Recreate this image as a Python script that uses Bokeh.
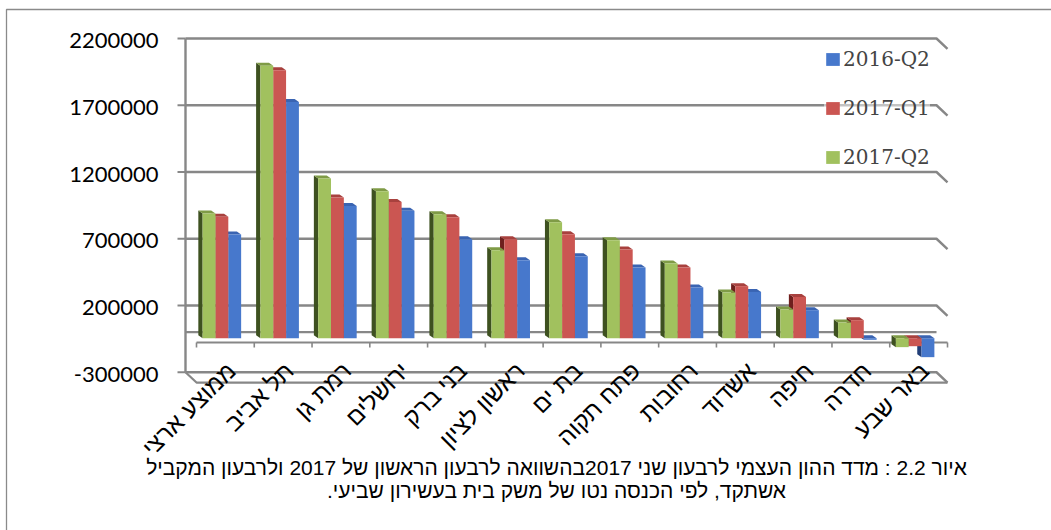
import math

from bokeh.core.properties import value
from bokeh.embed import file_html
from bokeh.models import Legend, LegendItem, Range1d
from bokeh.plotting import figure
from bokeh.resources import INLINE

# ---------------------------------------------------------------- data
categories = [
    "ממוצע ארצי", "תל אביב", "רמת גן", "ירושלים", "בני ברק", "ראשון לציון",
    "בת ים", "פתח תקוה", "רחובות", "אשדוד", "חיפה", "חדרה", "באר שבע",
]
q2_2016 = [777000, 1770000, 991000, 955000, 742000, 584000, 614000,
           530000, 380000, 347000, 210000, -12000, -142000]
q1_2017 = [909000, 2008000, 1054000, 1021000, 906000, 742000, 779000,
           664000, 530000, 390000, 309000, 135000, -60000]
q2_2017 = [934000, 2040000, 1196000, 1100000, 929000, 659000, 869000,
           734000, 560000, 342000, 215000, 117000, -67000]
series_names = ["2016-Q2", "2017-Q1", "2017-Q2"]
y_ticks = [2200000, 1700000, 1200000, 700000, 200000, -300000]
y_tick_labels = ["2200000", "1700000", "1200000", "700000", "200000", "-300000"]
caption_lines = [
    "איור 2.2 : מדד ההון העצמי לרבעון שני 2017בהשוואה לרבעון הראשון של 2017 ולרבעון המקביל",
    "אשתקד, לפי הכנסה נטו של משק בית בעשירון שביעי.\u200f",
]

# ------------------------------------------- geometry of the 3-D box
W, H = 1051, 530
CAT_PX = 57.77              # width of one category slot
VAL_PX = 66.75 / 500000     # pixels per unit of value
WALL_X0, WALL_Y0 = 185.0, 331.7   # left edge / zero level on the back wall
MID_SHIFT = (7.5, 6.0)      # bars stand half way into the floor
FRONT_SHIFT = (11.0, 10.3)  # front edge of the floor
BAR_DEPTH = (4.3, 3.0)      # visible depth of a bar (left side, top)
N = len(categories)


def x_range_for(shift):
    dx = shift[0] / CAT_PX
    return Range1d(-WALL_X0 / CAT_PX - dx, (W - WALL_X0) / CAT_PX - dx)


def y_range_for(shift):
    dy = shift[1] / VAL_PX
    return Range1d(-(H - WALL_Y0) / VAL_PX + dy, WALL_Y0 / VAL_PX + dy)


def to_wall(x, y, shift):
    """Point given in a shifted (deeper) plane, expressed in wall units."""
    return x + shift[0] / CAT_PX, y - shift[1] / VAL_PX


def px_x(px):
    return (px - WALL_X0) / CAT_PX


def px_y(py):
    return (WALL_Y0 - py) / VAL_PX


p = figure(
    width=W, height=H,
    x_range=x_range_for((0, 0)), y_range=y_range_for((0, 0)),
    x_axis_type=None, y_axis_type=None,
    min_border=0, toolbar_location=None, output_backend="svg",
    outline_line_color=None, background_fill_color="white",
)
p.extra_x_ranges = {"mid": x_range_for(MID_SHIFT), "front": x_range_for(FRONT_SHIFT)}
p.extra_y_ranges = {"mid": y_range_for(MID_SHIFT), "front": y_range_for(FRONT_SHIFT)}

GRID = "#878787"

# outer frame of the chart area
p.multi_line(xs=[[px_x(6), px_x(6), px_x(1060)]], ys=[[px_y(540), px_y(9), px_y(9)]],
             line_color="#8a8a8a", line_width=1.3)

# back-wall gridlines with their bend onto the right wall
gx, gy = [], []
for v in y_ticks:
    fx, fy = to_wall(N, v, FRONT_SHIFT)
    gx.append([0, N, fx])
    gy.append([v, v, fy])
p.multi_line(xs=gx, ys=gy, line_color=GRID, line_width=2.4)

# left wall edge and its ticks
p.segment(x0=[0], y0=[y_ticks[-1]], x1=[0], y1=[y_ticks[0]], line_color=GRID, line_width=2.4)
p.segment(x0=[px_x(177)] * len(y_ticks), y0=y_ticks, x1=[0] * len(y_ticks), y1=y_ticks,
          line_color=GRID, line_width=2.2)

# floor: back edge at zero, front edge at the bottom of the scale
p.segment(x0=[0], y0=[0], x1=[N], y1=[0], line_color=GRID, line_width=2.2)
bx, by = to_wall(0, y_ticks[-1], FRONT_SHIFT)
ex, ey = to_wall(N, y_ticks[-1], FRONT_SHIFT)
p.multi_line(xs=[[0, bx, ex]], ys=[[y_ticks[-1], by, ey]], line_color=GRID, line_width=2.2)

# category axis along the front of the floor
p.segment(x0=[0], y0=[0], x1=[N], y1=[0], x_range_name="front", y_range_name="front",
          line_color=GRID, line_width=2.2)
tick_len = 5 / VAL_PX
p.segment(x0=list(range(N + 1)), y0=[0] * (N + 1), x1=list(range(N + 1)),
          y1=[-tick_len] * (N + 1), x_range_name="front", y_range_name="front",
          line_color=GRID, line_width=1.6)

# ------------------------------------------------------------ bars
bw = 1 / 4.5
ddx = BAR_DEPTH[0] / CAT_PX
ddy = BAR_DEPTH[1] / VAL_PX
styles = {
    "2016-Q2": dict(slot=2, front="#4778CC", side="#223F78", top="#3A64B2"),
    "2017-Q1": dict(slot=1, front="#CB5652", side="#6E1F1D", top="#A8413E"),
    "2017-Q2": dict(slot=0, front="#A1C15E", side="#3E5120", top="#7F9B46"),
}
values = {"2016-Q2": q2_2016, "2017-Q1": q1_2017, "2017-Q2": q2_2017}

front_renderers = {}
for name in series_names:          # right-most bar first, so nearer bars cover it
    st = styles[name]
    vals = values[name]
    left = [i + 0.5 - 1.5 * bw + st["slot"] * bw for i in range(N)]
    right = [l + bw for l in left]
    bottom = [min(v, 0) for v in vals]
    top = [max(v, 0) for v in vals]
    side_xs = [[l, l, l - ddx, l - ddx] for l in left]
    side_ys = [[b, t, t + ddy, b + ddy] for b, t in zip(bottom, top)]
    top_xs = [[l, r, r - ddx, l - ddx] for l, r in zip(left, right)]
    top_ys = [[t, t, t + ddy, t + ddy] for t in top]
    p.patches(xs=side_xs, ys=side_ys, fill_color=st["side"], line_color=None,
              x_range_name="mid", y_range_name="mid")
    p.patches(xs=top_xs, ys=top_ys, fill_color=st["top"], line_color=None,
              x_range_name="mid", y_range_name="mid")
    front_renderers[name] = p.quad(left=left, right=right, bottom=bottom, top=top,
                                   fill_color=st["front"], line_color=None,
                                   x_range_name="mid", y_range_name="mid")

# ------------------------------------------------------------ texts
p.text(x=[0] * len(y_ticks), y=y_ticks, text=y_tick_labels, x_offset=-27, y_offset=2,
       text_align="right", text_baseline="middle", text_font=value("Lato"),
       text_font_size="22px", text_color="black")

p.text(x=[i + 0.5 for i in range(N)], y=[0] * N, text=categories,
       x_range_name="front", y_range_name="front",
       angle=math.pi / 4, x_offset=6, y_offset=24,
       text_align="right", text_baseline="middle",
       text_font=value("Liberation Sans"), text_font_size="24px", text_color="black")

p.text(x=[px_x(556)] * 2, y=[px_y(467), px_y(490)], text=caption_lines,
       text_align="center", text_baseline="middle",
       text_font=value("Liberation Sans"), text_font_size="21px", text_color="black")

legend = Legend(
    items=[LegendItem(label=n, renderers=[front_renderers[n]]) for n in series_names],
    location=(824, 361),
    glyph_width=17, glyph_height=16, label_standoff=2,
    label_text_font="DejaVu Serif", label_text_font_size="20px",
    label_height=23, spacing=25, padding=28, margin=0,
    background_fill_color="white", background_fill_alpha=0.5,
    border_line_color=None,
)
p.add_layout(legend)

open("out.html", "w").write(file_html(p, INLINE))
